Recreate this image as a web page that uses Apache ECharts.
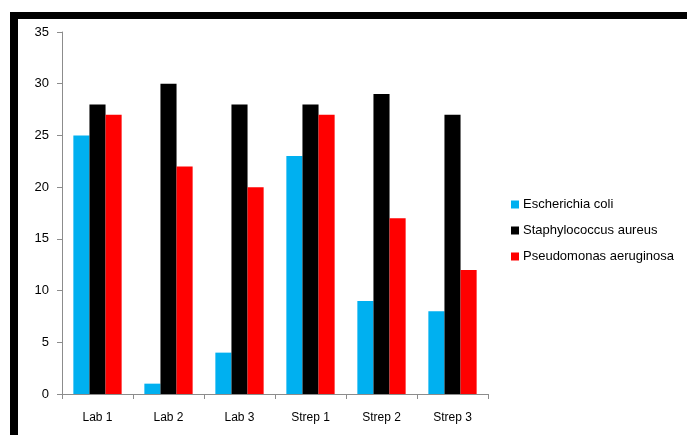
<!DOCTYPE html>
<html>
<head>
<meta charset="utf-8">
<script src="https://cdn.jsdelivr.net/npm/echarts@6/dist/echarts.min.js"></script>
<style>
  html, body { margin: 0; padding: 0; background: #fff; }
  #chart { width: 687px; height: 435px; }
</style>
</head>
<body>
<div id="chart"></div>
<script>
// Inhibition zone measurements per antibiotic sample
const categories = ['Lab 1', 'Lab 2', 'Lab 3', 'Strep 1', 'Strep 2', 'Strep 3'];
const ecoli = [25, 1, 4, 23, 9, 8];
const staph = [28, 30, 28, 28, 29, 27];
const pseudo = [27, 22, 20, 27, 17, 12];
const yTicks = [0, 5, 10, 15, 20, 25, 30, 35];

const labelFont = { fontFamily: 'Liberation Sans, Arial, sans-serif', fontSize: 12, color: '#000' };

const chart = echarts.init(document.getElementById('chart'), null, { renderer: 'canvas' });

function bar(name, data, color) {
  return {
    name: name,
    type: 'bar',
    data: data,
    barGap: '0%',
    barCategoryGap: '32%',
    itemStyle: { color: color },
    emphasis: { disabled: true }
  };
}

chart.setOption({
  animation: false,
  backgroundColor: '#fff',
  grid: { left: 62, right: 199, top: 32, bottom: 41, containLabel: false },
  legend: {
    orient: 'vertical',
    left: 506,
    top: 193,
    itemWidth: 8,
    itemHeight: 8,
    itemGap: 13,
    icon: 'rect',
    textStyle: Object.assign({}, labelFont, { fontSize: 13, padding: [0, 0, 0, -1] }),
    data: ['Escherichia coli', 'Staphylococcus aureus', 'Pseudomonas aeruginosa']
  },
  xAxis: {
    type: 'category',
    data: categories,
    axisLine: { lineStyle: { color: '#8c8c8c', width: 1 } },
    axisTick: { show: true, alignWithLabel: false, length: 5, lineStyle: { color: '#8c8c8c' } },
    axisLabel: Object.assign({ margin: 18 }, labelFont)
  },
  yAxis: {
    type: 'value',
    min: yTicks[0],
    max: yTicks[yTicks.length - 1],
    interval: 5,
    splitLine: { show: false },
    axisLine: { show: true, lineStyle: { color: '#8c8c8c', width: 1 } },
    axisTick: { show: true, length: 5, lineStyle: { color: '#8c8c8c' } },
    axisLabel: Object.assign({ margin: 13 }, labelFont, { fontSize: 13 })
  },
  series: [
    bar('Escherichia coli', ecoli, '#00b0f0'),
    bar('Staphylococcus aureus', staph, '#000000'),
    bar('Pseudomonas aeruginosa', pseudo, '#ff0000')
  ],
  graphic: [
    // heavy frame along the top and left edges
    { type: 'rect', shape: { x: 10, y: 12, width: 677, height: 7 }, style: { fill: '#000' }, silent: true },
    { type: 'rect', shape: { x: 10, y: 12, width: 8, height: 423 }, style: { fill: '#000' }, silent: true }
  ]
});
</script>
</body>
</html>
